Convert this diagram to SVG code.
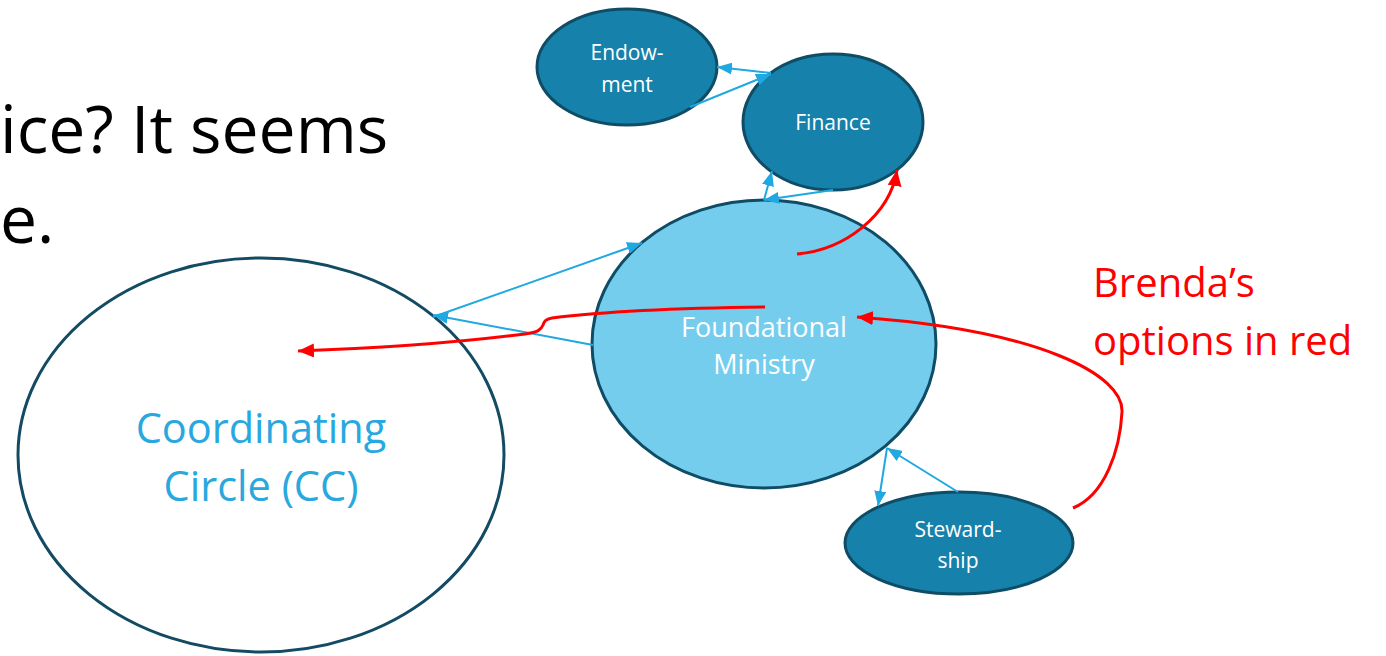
<svg xmlns="http://www.w3.org/2000/svg" width="1386" height="656" viewBox="0 0 1386 656">
<style>
.slide{font-family:"Open Sans","Liberation Sans",sans-serif;font-size:66px;fill:#000}
.lbl{font-family:"Open Sans","Liberation Sans",sans-serif;fill:#fff;text-anchor:middle}
.dark{fill:#1681AA;stroke:#0F4C66;stroke-width:3}
.light{fill:#75CDEE;stroke:#0F4C66;stroke-width:3}
.cc{fill:#fff;stroke:#124B63;stroke-width:3}
.blue{fill:none;stroke:#1FA8E1;stroke-width:2;marker-end:url(#ab)}
.red{fill:none;stroke:#FF0000;stroke-width:3;marker-end:url(#ar)}
.redtxt{font-family:"Open Sans","Liberation Sans",sans-serif;font-size:40px;fill:#FF0000}
</style>
<defs>
<marker id="ab" viewBox="0 0 15 12" refX="15" refY="6" markerWidth="15" markerHeight="12" orient="auto" markerUnits="userSpaceOnUse"><path d="M0,0 L15,6 L0,12 z" fill="#1FA8E1"/></marker>
<marker id="ar" viewBox="0 0 16 14" refX="16" refY="7" markerWidth="16" markerHeight="14" orient="auto" markerUnits="userSpaceOnUse"><path d="M0,0 L16,7 L0,14 z" fill="#FF0000"/></marker>
</defs>
<text class="slide" x="0" y="153">ice? It seems</text>
<text class="slide" x="0" y="243">e.</text>
<g id="node-cc">
<ellipse class="cc" cx="261" cy="455" rx="243" ry="197"/>
<text class="lbl" x="261" y="443" font-size="41.5" style="fill:#29A8E0">Coordinating</text>
<text class="lbl" x="261" y="501" font-size="41.5" style="fill:#29A8E0">Circle (CC)</text>
</g>
<g id="node-endowment">
<ellipse class="dark" cx="627" cy="67" rx="90" ry="58"/>
<text class="lbl" x="627" y="60" font-size="21">Endow-</text>
<text class="lbl" x="627" y="92" font-size="21">ment</text>
</g>
<g id="node-finance">
<ellipse class="dark" cx="833" cy="122" rx="90" ry="68"/>
<text class="lbl" x="833" y="130" font-size="21">Finance</text>
</g>
<g id="node-foundational">
<ellipse class="light" cx="764" cy="344" rx="172" ry="144"/>
<text class="lbl" x="764" y="337" font-size="27">Foundational</text>
<text class="lbl" x="764" y="374" font-size="27">Ministry</text>
</g>
<g id="node-stewardship">
<ellipse class="dark" cx="959" cy="543" rx="114" ry="51"/>
<text class="lbl" x="958" y="537" font-size="21">Steward-</text>
<text class="lbl" x="958" y="568" font-size="21">ship</text>
</g>
<g id="note">
<text class="redtxt" x="1093" y="297">Brenda’s</text>
<text class="redtxt" x="1093" y="355">options in red</text>
</g>
<g id="connectors">
<line class="blue" x1="771" y1="73" x2="717" y2="67"/>
<line class="blue" x1="690" y1="107" x2="771" y2="74"/>
<line class="blue" x1="764" y1="200" x2="772" y2="171"/>
<line class="blue" x1="833" y1="190" x2="764" y2="200"/>
<line class="blue" x1="433" y1="317" x2="642" y2="243"/>
<line class="blue" x1="593" y1="345" x2="433" y2="315"/>
<line class="blue" x1="887" y1="448" x2="878" y2="506"/>
<line class="blue" x1="958" y1="492" x2="887" y2="448"/>
<path class="red" d="M797,254 C845,250 890,215 897,170"/>
<path class="red" d="M765,307 C680,308 600,312 552,318 C545,319 544,322 543,325 C541,330 538,332 525,334 C470,341 390,348 298,351"/>
<path class="red" d="M1073,508 C1105,495 1120,450 1122,412 C1124,375 1040,330 857,317"/>
</g>
</svg>
